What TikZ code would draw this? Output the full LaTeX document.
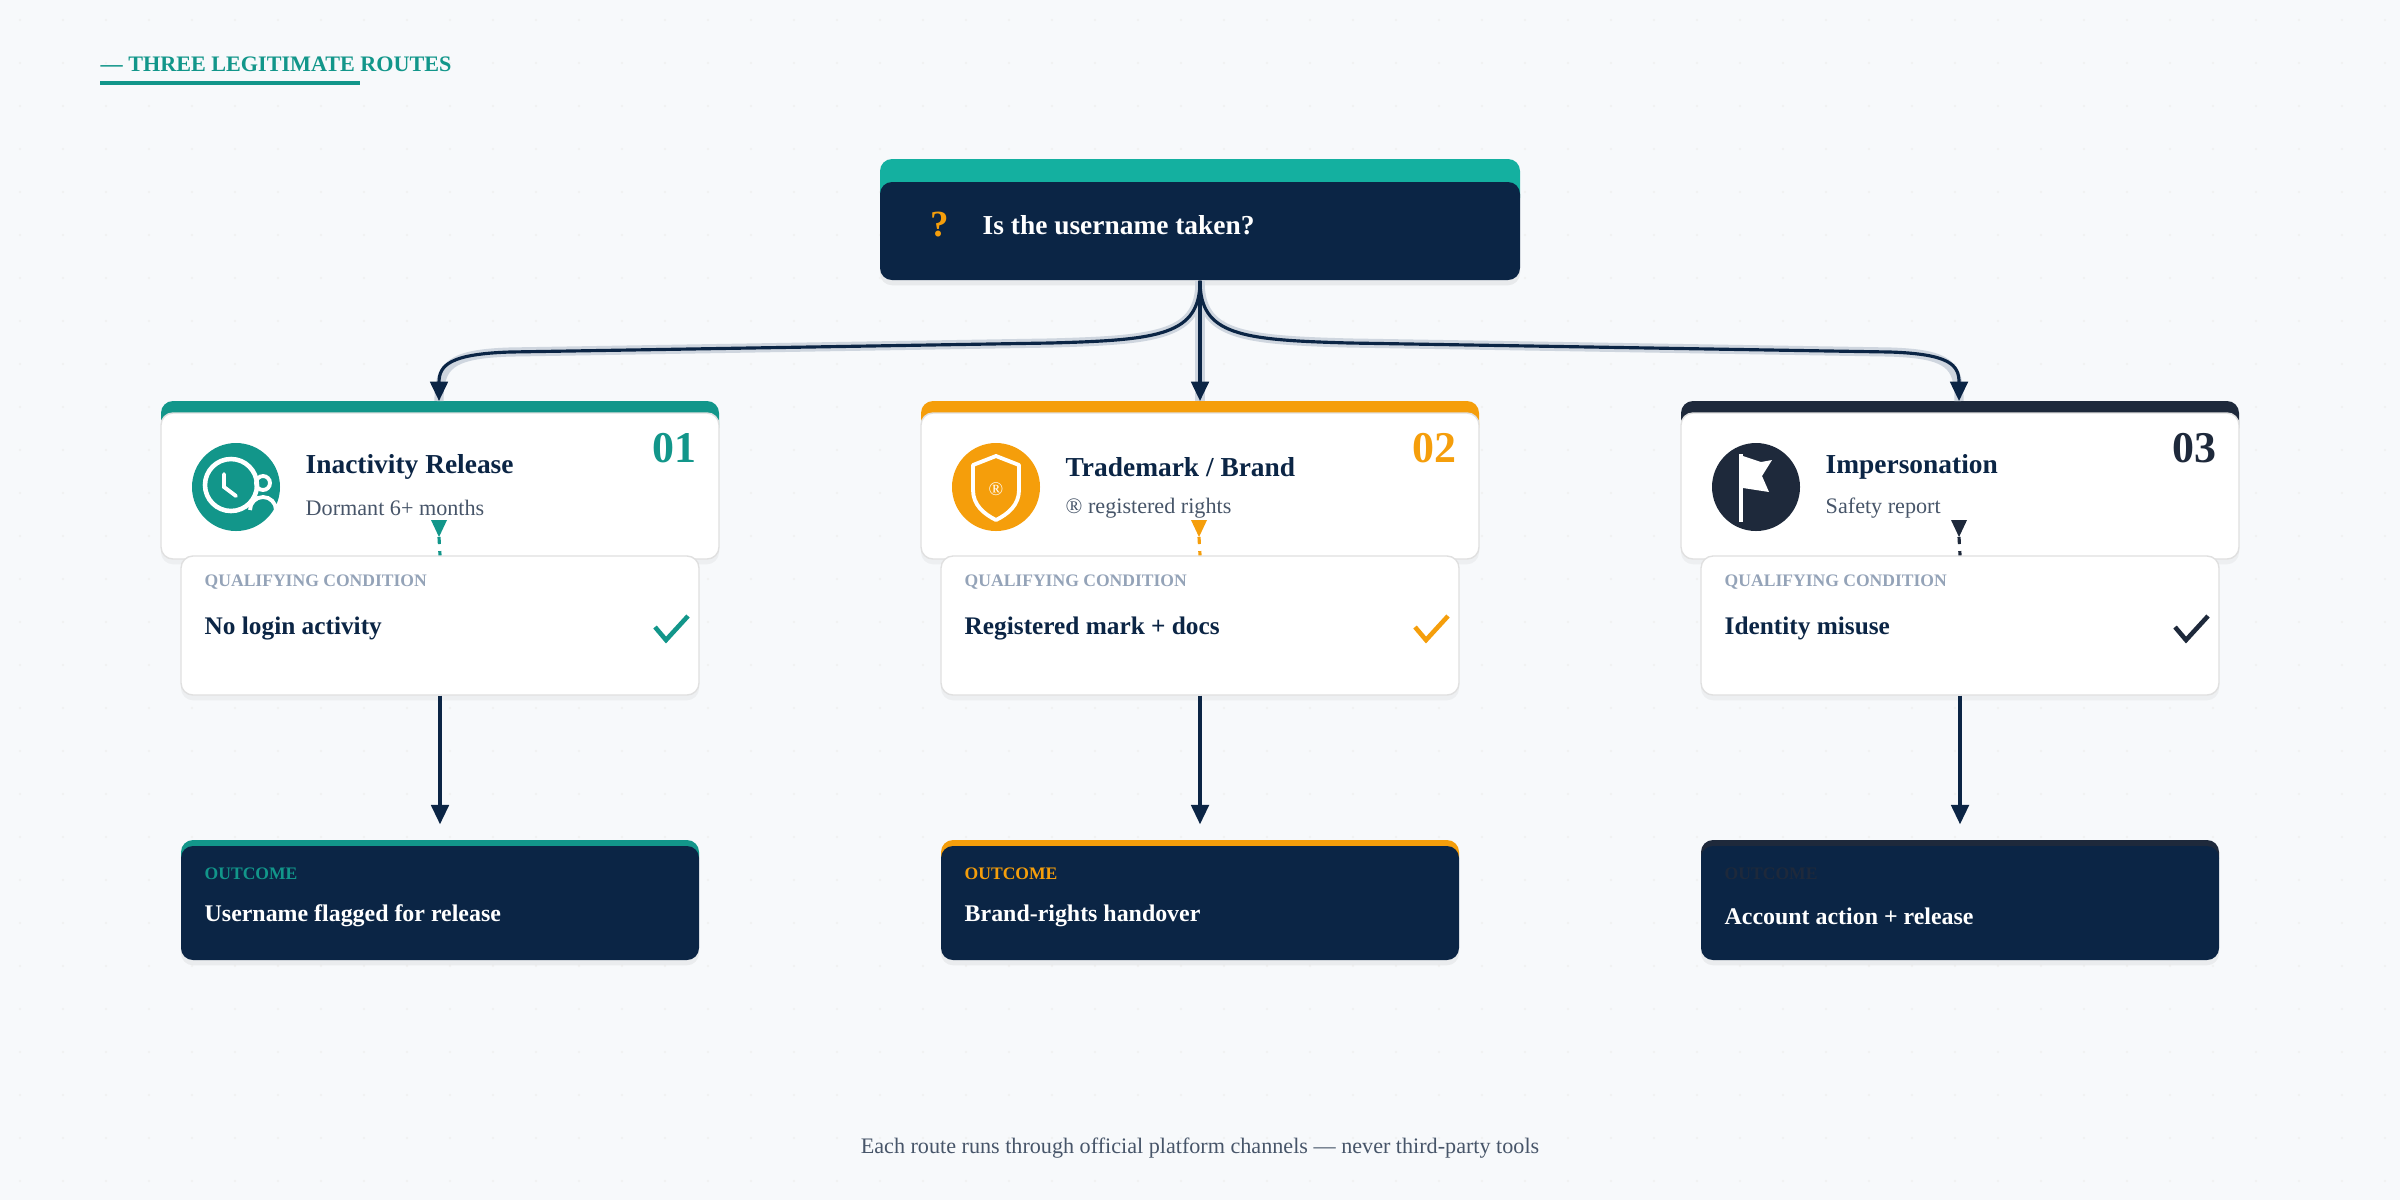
\documentclass[tikz,border=0pt]{standalone}
\usepackage{fontspec}
\setmainfont{Liberation Serif}
\usepackage{tikz}
\usetikzlibrary{arrows.meta, positioning, shadows}
\definecolor{navy}{HTML}{0B2545}
\definecolor{ink}{HTML}{1E293B}
\definecolor{tealA}{HTML}{12968A}
\definecolor{tealB}{HTML}{14B0A0}
\definecolor{amber}{HTML}{F59E0B}
\definecolor{slate}{HTML}{475569}
\definecolor{mist}{HTML}{94A3B8}
\definecolor{bgc}{HTML}{F7F9FB}
\tikzstyle{card} = [rectangle, rounded corners=3.4pt, minimum width=5.58cm, minimum height=1.46cm, draw=black!12, fill=white, drop shadow={opacity=0.08, shadow xshift=0pt, shadow yshift=-1.5pt}]
\tikzstyle{cond} = [rectangle, rounded corners=3.4pt, minimum width=5.18cm, minimum height=1.39cm, draw=black!12, fill=white, drop shadow={opacity=0.08, shadow xshift=0pt, shadow yshift=-1.5pt}]
\tikzstyle{outbox} = [rectangle, rounded corners=3.4pt, minimum width=5.18cm, minimum height=1.14cm, fill=navy, drop shadow={opacity=0.10, shadow xshift=0pt, shadow yshift=-1.5pt}]
\tikzstyle{title} = [anchor=west, font=\fontsize{7.8}{9}\selectfont\bfseries, text=navy, inner sep=0pt]
\tikzstyle{sub} = [anchor=west, font=\fontsize{6.3}{8}\selectfont, text=slate, inner sep=0pt]
\tikzstyle{num} = [anchor=east, font=\fontsize{12.5}{14}\selectfont\bfseries, inner sep=0pt]
\tikzstyle{tag} = [anchor=west, font=\fontsize{5}{6}\selectfont\bfseries, inner sep=0pt]
\tikzstyle{main} = [anchor=west, font=\fontsize{7.2}{9}\selectfont\bfseries, text=navy, inner sep=0pt]
\tikzstyle{route} = [line width=0.9pt, draw=navy, -{Triangle[width=5pt,length=5.5pt]}]
\tikzstyle{halo} = [line width=2.6pt, draw=mist!45]
\begin{document}
\begin{tikzpicture}
  \useasboundingbox (0,0) rectangle (24,-12);
  \fill[bgc] (0,0) rectangle (24,-12);
  \foreach \i in {0,...,55} \foreach \j in {0,...,27}
    \fill[black!6] (0.2+0.43*\i,-0.2-0.43*\j) circle (0.012);

  % header
  \node (head) [tag, font=\fontsize{6.3}{8}\selectfont\bfseries, text=tealA] at (1.0,-0.64) {— THREE LEGITIMATE ROUTES};
  \draw[tealA, line width=1.2pt] (1.0,-0.83) -- (3.6,-0.83);

  % question
  \fill[tealB, rounded corners=3.4pt] (8.80,-1.59) rectangle (15.20,-2.10);
  \node (ask) [rectangle, rounded corners=3.4pt, fill=navy, minimum width=6.4cm, minimum height=0.98cm, drop shadow={opacity=0.12, shadow xshift=0pt, shadow yshift=-1.5pt}] at (12.0,-2.31) {};
  \node (qmark) [font=\fontsize{10.5}{12}\selectfont\bfseries, text=amber] at (9.40,-2.25) {?};
  \node (asktxt) [title, text=white, right=0.42cm of qmark.center] {Is the username taken?};

  % column 1
  \fill[tealA, rounded corners=3.4pt] (1.61,-4.01) rectangle (7.19,-4.40);
  \node (card1) [card] at (4.40,-4.86) {};
  \fill[tealA] (2.36,-4.87) circle (0.44);
  \draw[white, line width=1.3pt] (2.31,-4.85) circle (0.26);
  \draw[white, line width=1.1pt, line cap=round] (2.24,-4.74) -- (2.24,-4.87) -- (2.36,-4.96);
  \draw[white, line width=1.1pt] (2.63,-4.83) circle (0.07);
  \draw[white, line width=1.1pt] (2.50,-5.10) arc (180:0:0.13);
  \node (t1) [title] at (3.05,-4.67) {Inactivity Release};
  \node (s1) [sub] at (3.05,-5.08) {Dormant 6+ months};
  \node (n1) [num, text=tealA] at (6.97,-4.48) {01};
  \node (cond1) [cond] at (4.40,-6.255) {};
  \node (q1) [tag, text=mist] at (2.04,-5.82) {QUALIFYING CONDITION};
  \node (m1) [main] at (2.04,-6.28) {No login activity};
  \draw[tealA, line width=1.3pt] (6.55,-6.27) -- (6.66,-6.40) -- (6.88,-6.16);
  \fill[tealA] (4.31,-5.20) -- (4.47,-5.20) -- (4.39,-5.37) -- cycle;
  \coordinate (d1) at (4.39,-5.37);
  \draw[tealA, line width=0.9pt, dash pattern=on 2pt off 2pt] (d1) -- (cond1.north);
  \fill[tealA, rounded corners=3.4pt] (1.81,-8.40) rectangle (6.99,-8.70);
  \node (out1) [outbox] at (4.40,-9.03) {};
  \node (o1) [tag, text=tealA] at (2.04,-8.74) {OUTCOME};
  \node (r1) [main, text=white, font=\fontsize{6.8}{8}\selectfont\bfseries] at (2.04,-9.16) {Username flagged for release};
  \draw[route, shorten >=0.21cm] (cond1) -- (out1);

  % column 2
  \fill[amber, rounded corners=3.4pt] (9.21,-4.01) rectangle (14.79,-4.40);
  \node (card2) [card] at (12.00,-4.86) {};
  \fill[amber] (9.96,-4.87) circle (0.44);
  \draw[white, line width=1.1pt, line join=round] (9.96,-4.56) -- (10.19,-4.65) -- (10.19,-4.90) .. controls (10.19,-5.05) and (10.08,-5.14) .. (9.96,-5.20) .. controls (9.84,-5.14) and (9.73,-5.05) .. (9.73,-4.90) -- (9.73,-4.65) -- cycle;
  \node (rg) [text=white, font=\fontsize{5.5}{6}\selectfont, inner sep=0pt] at (9.96,-4.89) {®};
  \node (t2) [title] at (10.65,-4.67) {Trademark / Brand};
  \node (s2) [sub] at (10.65,-5.08) {® registered rights};
  \node (n2) [num, text=amber] at (14.57,-4.48) {02};
  \node (cond2) [cond] at (12.00,-6.255) {};
  \node (q2) [tag, text=mist] at (9.64,-5.82) {QUALIFYING CONDITION};
  \node (m2) [main] at (9.64,-6.28) {Registered mark + docs};
  \draw[amber, line width=1.3pt] (14.15,-6.27) -- (14.26,-6.40) -- (14.48,-6.16);
  \fill[amber] (11.91,-5.20) -- (12.07,-5.20) -- (11.99,-5.37) -- cycle;
  \coordinate (d2) at (11.99,-5.37);
  \draw[amber, line width=0.9pt, dash pattern=on 2pt off 2pt] (d2) -- (cond2.north);
  \fill[amber, rounded corners=3.4pt] (9.41,-8.40) rectangle (14.59,-8.70);
  \node (out2) [outbox] at (12.00,-9.03) {};
  \node (o2) [tag, text=amber] at (9.64,-8.74) {OUTCOME};
  \node (r2) [main, text=white, font=\fontsize{6.8}{8}\selectfont\bfseries] at (9.64,-9.16) {Brand-rights handover};
  \draw[route, shorten >=0.21cm] (cond2) -- (out2);

  % column 3
  \fill[ink, rounded corners=3.4pt] (16.81,-4.01) rectangle (22.39,-4.40);
  \node (card3) [card] at (19.60,-4.86) {};
  \fill[ink] (17.56,-4.87) circle (0.44);
  \fill[white] (17.39,-4.54) rectangle (17.43,-5.22);
  \fill[white] (17.43,-4.56) -- (17.61,-4.62) -- (17.72,-4.60) -- (17.62,-4.76) -- (17.69,-4.92) -- (17.43,-4.88) -- cycle;
  \node (t3) [title] at (18.25,-4.67) {Impersonation};
  \node (s3) [sub] at (18.25,-5.08) {Safety report};
  \node (n3) [num, text=ink] at (22.17,-4.48) {03};
  \node (cond3) [cond] at (19.60,-6.255) {};
  \node (q3) [tag, text=mist] at (17.24,-5.82) {QUALIFYING CONDITION};
  \node (m3) [main] at (17.24,-6.28) {Identity misuse};
  \draw[ink, line width=1.3pt] (21.75,-6.27) -- (21.86,-6.40) -- (22.08,-6.16);
  \fill[ink] (19.51,-5.20) -- (19.67,-5.20) -- (19.59,-5.37) -- cycle;
  \coordinate (d3) at (19.59,-5.37);
  \draw[ink, line width=0.9pt, dash pattern=on 2pt off 2pt] (d3) -- (cond3.north);
  \fill[ink, rounded corners=3.4pt] (17.01,-8.40) rectangle (22.19,-8.70);
  \node (out3) [outbox] at (19.60,-9.03) {};
  \node (o3) [tag, text=ink] at (17.24,-8.74) {OUTCOME};
  \node (r3) [main, text=white, font=\fontsize{6.8}{8}\selectfont\bfseries] at (17.24,-9.16) {Account action + release};
  \draw[route, shorten >=0.21cm] (cond3) -- (out3);

  % routes from the question
  \coordinate (top1) at (4.39,-4.01);
  \coordinate (top2) at (12.00,-4.01);
  \coordinate (top3) at (19.59,-4.01);
  \draw[halo] (ask.south) .. controls (12.0,-3.35) and (11.6,-3.40) .. (10.5,-3.43) -- (5.1,-3.52) .. controls (4.5,-3.54) and (4.39,-3.65) .. (top1);
  \draw[halo] (ask.south) .. controls (12.0,-3.35) and (12.4,-3.40) .. (13.5,-3.43) -- (18.9,-3.52) .. controls (19.5,-3.54) and (19.59,-3.65) .. (top3);
  \draw[halo] (ask.south) -- (top2);
  \draw[route] (ask.south) .. controls (12.0,-3.35) and (11.6,-3.40) .. (10.5,-3.43) -- (5.1,-3.52) .. controls (4.5,-3.54) and (4.39,-3.65) .. (top1);
  \draw[route] (ask.south) .. controls (12.0,-3.35) and (12.4,-3.40) .. (13.5,-3.43) -- (18.9,-3.52) .. controls (19.5,-3.54) and (19.59,-3.65) .. (top3);
  \draw[route] (ask.south) -- (top2);

  % footer
  \node (foot) [font=\fontsize{6.3}{8}\selectfont, text=slate] at (12.0,-11.48) {Each route runs through official platform channels — never third-party tools};
\end{tikzpicture}
\end{document}
